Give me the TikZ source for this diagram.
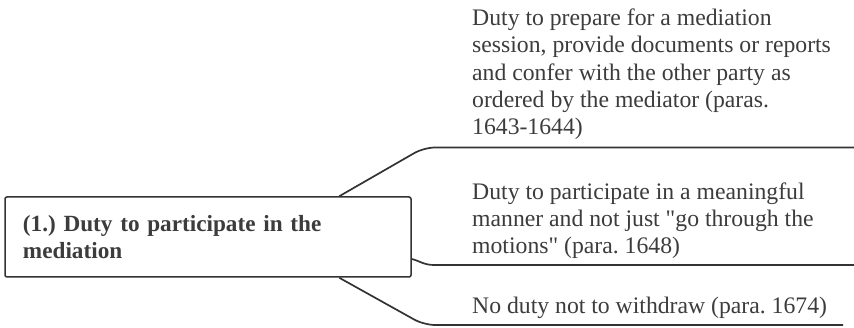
\documentclass[tikz,border=0pt]{standalone}
\usepackage{fontspec}
\setmainfont{Liberation Serif}[Ligatures=TeXOff]
\frenchspacing
\definecolor{ink}{HTML}{3C3C3C}
\definecolor{wire}{HTML}{333333}
\tikzset{
  x=1pt, y=-1pt,
  rootbox/.style={draw=wire, line width=1.5pt, rounded corners=2pt, fill=white,
    minimum width=406pt, minimum height=80pt, inner xsep=18pt, inner ysep=0pt,
    text width=370pt, align=left, text=ink,
    font=\fontsize{23.2}{27}\selectfont\bfseries},
  leaf/.style={anchor=north west, inner sep=0pt, align=left, text=ink,
    font=\fontsize{23.7}{27.2}\selectfont},
  branch/.style={draw=wire, line width=1.7pt},
}
\begin{document}
\begin{tikzpicture}
\useasboundingbox (0,0) rectangle (854,328);

% root topic
\node[rootbox] (root) at (208,237) {(1.) Duty to participate in the\\mediation};

% subtopics
\node[leaf] (c1) at (472,8.8) {Duty to prepare for a mediation\\session, provide documents or reports\\and confer with the other party as\\ordered by the mediator (paras.\\1643-1644)};
\node[leaf] (c2) at (472,182.6) {Duty to participate in a meaningful\\manner and not just "go through the\\motions" (para. 1648)};
\node[leaf] (c3) at (472,296.6) {No duty not to withdraw (para. 1674)};

% underline ends
\coordinate (k1) at (424,147.5);
\coordinate (e1) at (854,147.5);
\coordinate (e2) at (854,265);
\coordinate (k3) at (424,325);
\coordinate (e3) at (843,325);

% branches
\draw[branch, rounded corners=11pt] ([xshift=335pt]root.north west) -- (k1) -- (e1);
\draw[branch] ([yshift=-22pt]root.east) .. controls +(8,2) and +(-10,0) .. (434,265) -- (e2);
\draw[branch, rounded corners=11pt] ([xshift=335pt]root.south west) -- (k3) -- (e3);
\end{tikzpicture}
\end{document}
